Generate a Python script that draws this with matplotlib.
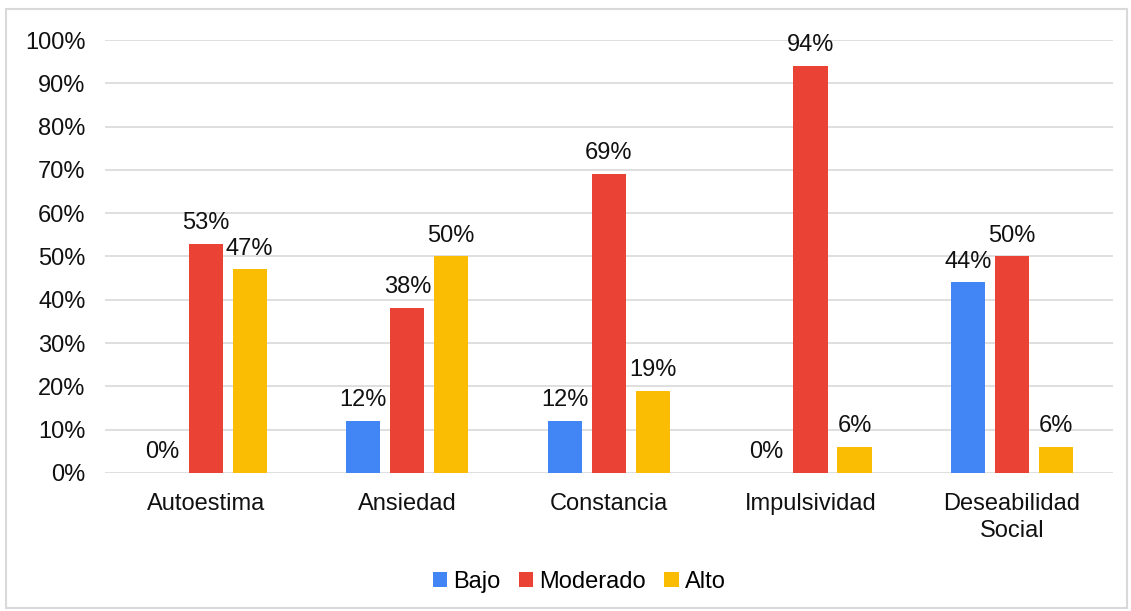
import matplotlib.pyplot as plt
import matplotlib.ticker as ticker
import numpy as np
from matplotlib.patches import Rectangle

plt.rcParams['font.family'] = ['Liberation Sans', 'DejaVu Sans']

# Data
categories = ["Autoestima", "Ansiedad", "Constancia", "Impulsividad", "Deseabilidad\nSocial"]
bajo = [0, 12, 12, 0, 44]
moderado = [53, 38, 69, 94, 50]
alto = [47, 50, 19, 6, 6]
series_names = ["Bajo", "Moderado", "Alto"]
colors = ["#4285F4", "#EA4335", "#FBBC04"]

FS = 17

fig = plt.figure(figsize=(11.31, 6.11), dpi=100)
ax = fig.add_axes([0.0928, 0.2259, 0.8912, 0.7086])

x = np.arange(len(categories))
offset = 0.218
width = 0.169

for i, (vals, name, col) in enumerate(zip([bajo, moderado, alto], series_names, colors)):
    pos = x + (i - 1) * offset
    ax.bar(pos, vals, width=width, color=col, label=name, zorder=3)
    for p, v in zip(pos, vals):
        ax.text(p, v + 2.3, f"{v}%", ha='center', va='bottom', fontsize=FS, color='#111111')

ax.set_xlim(-0.5, len(categories) - 0.5)
ax.set_ylim(0, 100)
ax.yaxis.set_major_locator(ticker.MultipleLocator(10))
ax.yaxis.set_major_formatter(ticker.FuncFormatter(lambda v, _: f"{int(v)}%"))
ax.grid(axis='y', color='#d9d9d9', linewidth=1.2, zorder=0)
ax.set_xticks(x)
ax.set_xticklabels(categories, fontsize=FS, color='#111111', linespacing=1.3)
ax.tick_params(axis='both', length=0, labelsize=FS, colors='#111111')
ax.tick_params(axis='x', pad=14.5)
ax.tick_params(axis='y', pad=14)
for s in ax.spines.values():
    s.set_visible(False)

ax.legend(loc='center', bbox_to_anchor=(0.512, 0.0475), bbox_transform=fig.transFigure,
          ncol=3, frameon=False, fontsize=FS, handlelength=0.6, handleheight=0.6,
          handletextpad=0.25, columnspacing=0.8)

# light border around the whole chart
fig.patches.append(Rectangle((6 / 1131, 3 / 611), 1121 / 1131, 599 / 611, transform=fig.transFigure,
                             fill=False, edgecolor='#d9d9d9', linewidth=1.5))

fig.savefig("out.png", dpi=100)
